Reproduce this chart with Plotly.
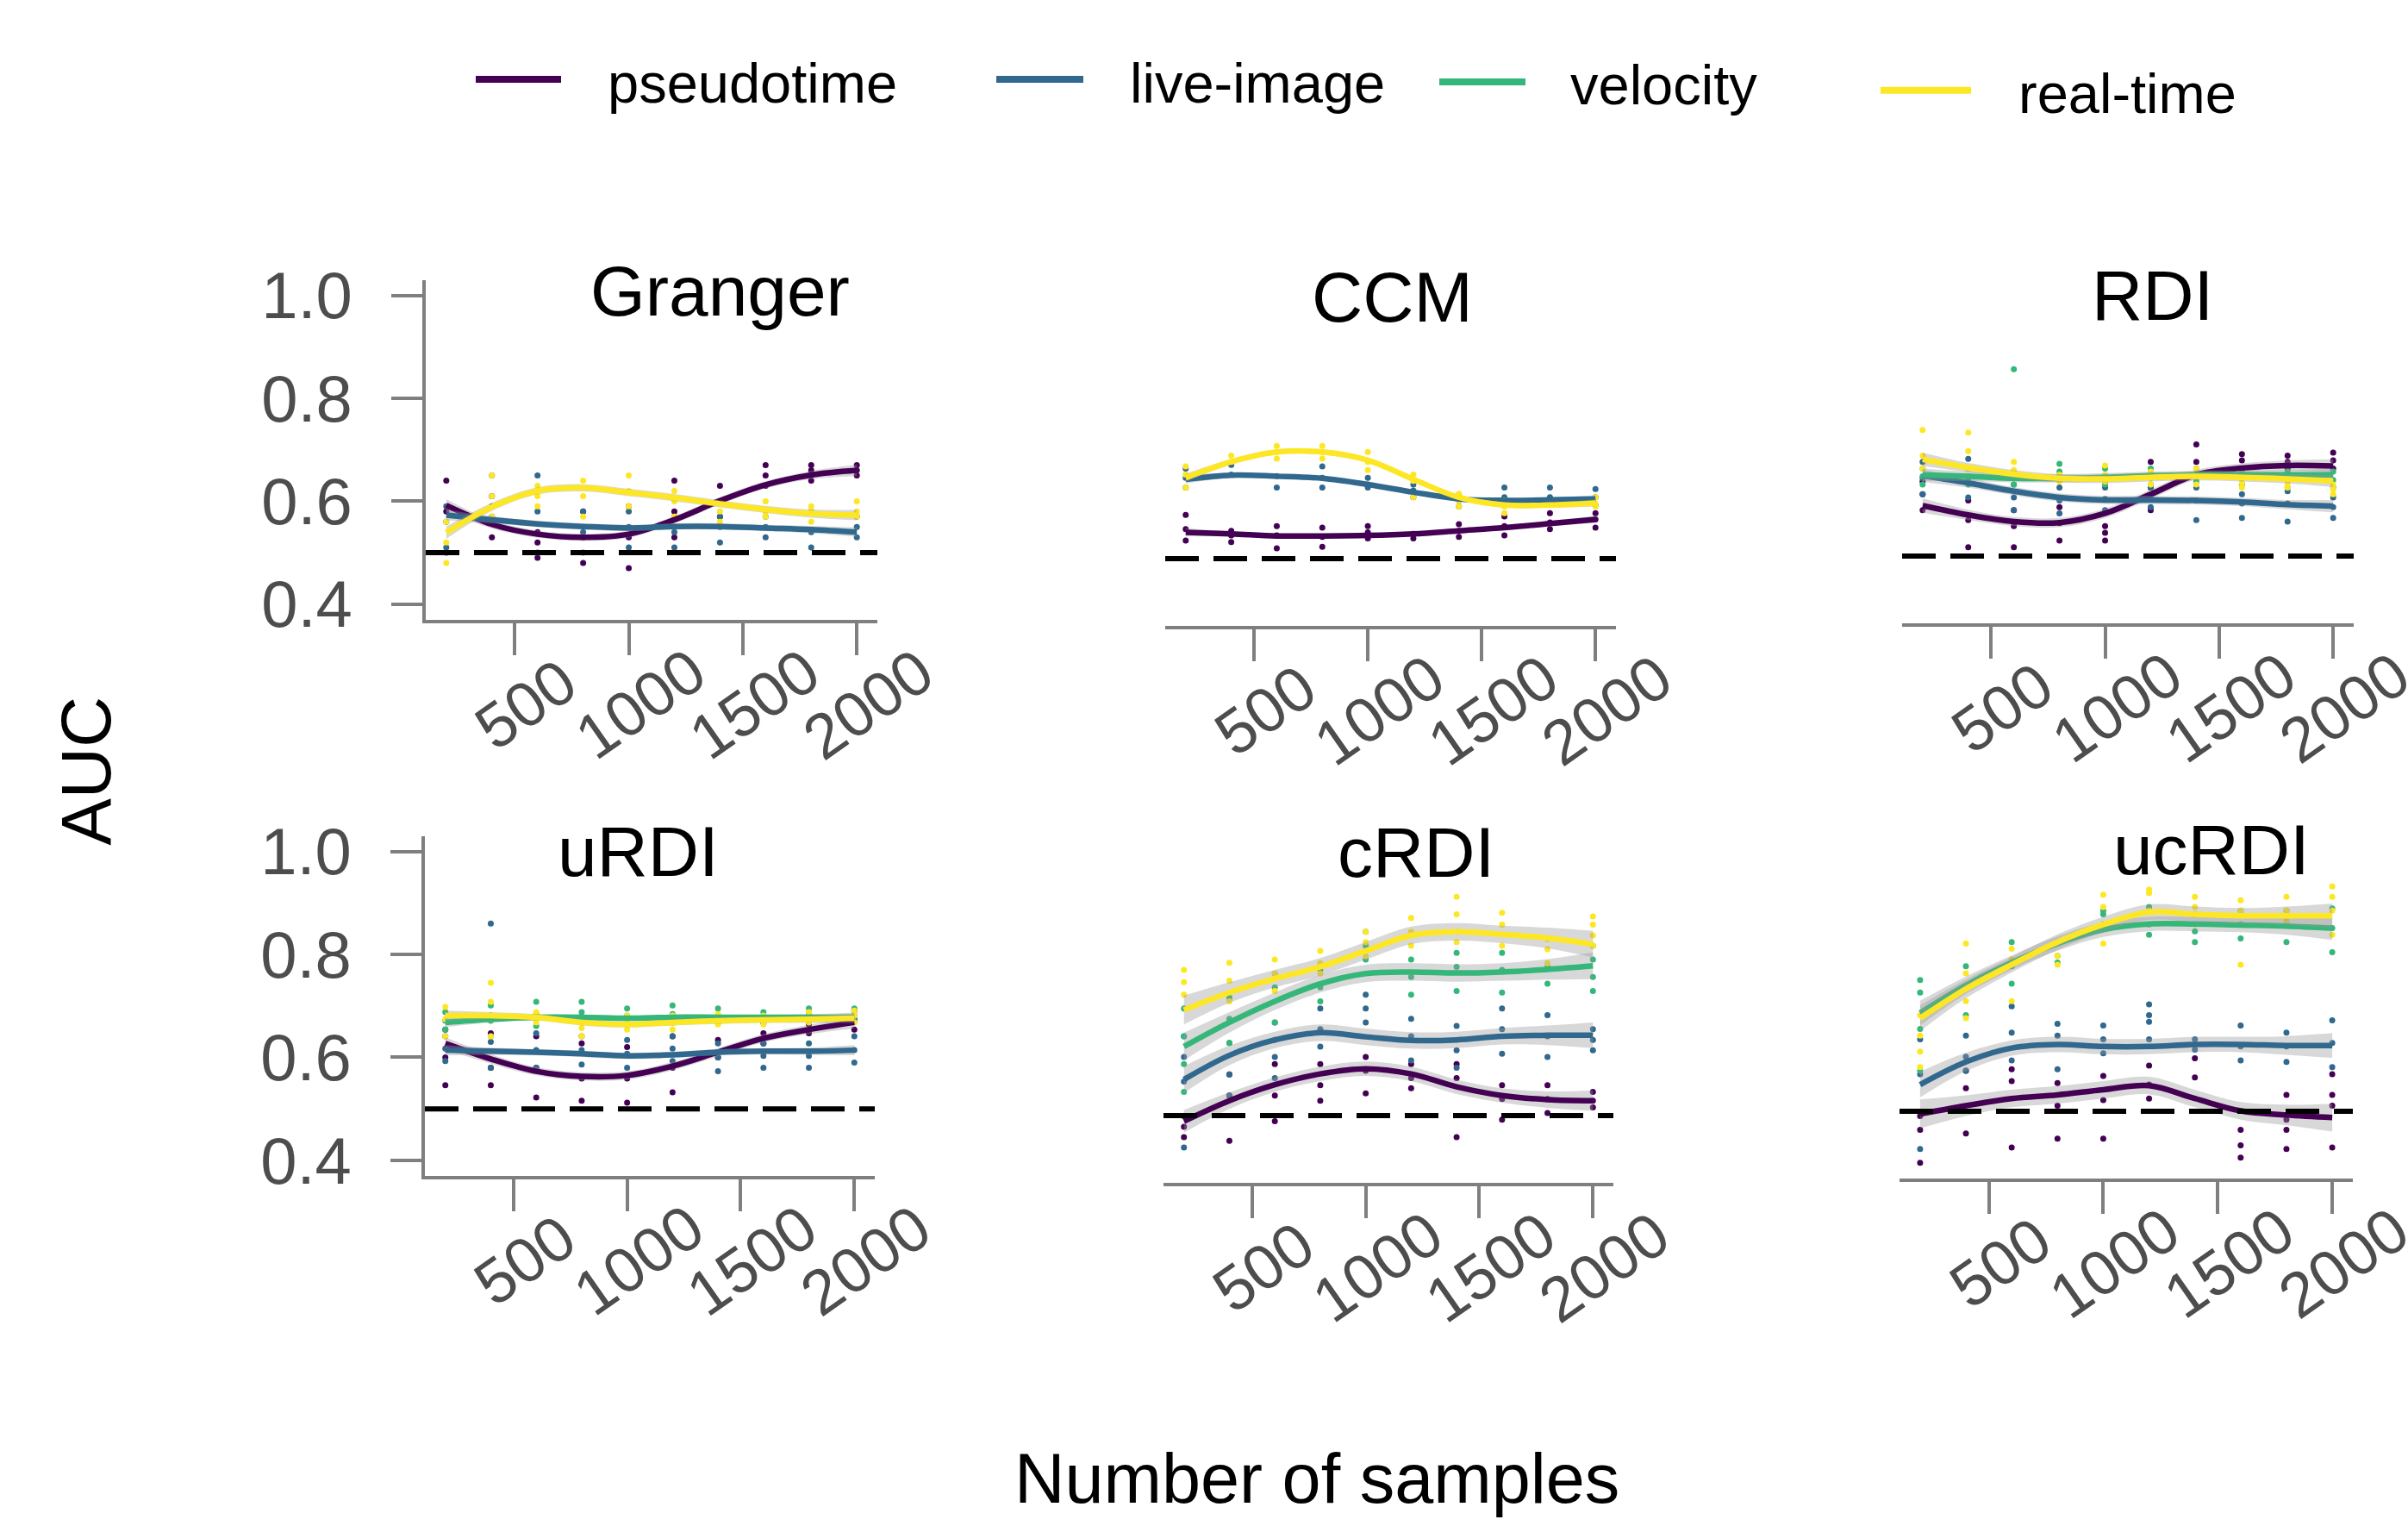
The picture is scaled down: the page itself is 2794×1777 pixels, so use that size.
import plotly.graph_objects as go

W, H = 2794, 1777

# ---------------- data ----------------
SAMPLES = [200, 400, 600, 800, 1000, 1200, 1400, 1600, 1800, 2000]
X_TICKS = [500, 1000, 1500, 2000]
X_TICK_LABELS = ["500", "1000", "1500", "2000"]
Y_TICKS = [0.4, 0.6, 0.8, 1.0]
Y_TICK_LABELS = ["0.4", "0.6", "0.8", "1.0"]
CHANCE_AUC = 0.5
METHODS = ["pseudotime", "live-image", "velocity", "real-time"]
PANELS = ["Granger", "CCM", "RDI", "uRDI", "cRDI", "ucRDI"]

# Granger
granger_pseudo_fit = [0.592, 0.555, 0.536, 0.530, 0.536, 0.564, 0.601, 0.632, 0.651, 0.660]
granger_pseudo_se = [0.012, 0.008, 0.007, 0.007, 0.007, 0.007, 0.007, 0.007, 0.008, 0.011]
granger_pseudo_pts = [[0.64, 0.58, 0.50], [0.61, 0.57, 0.53], [0.54, 0.52, 0.49], [0.58, 0.53, 0.48],
                      [0.59, 0.53, 0.47], [0.64, 0.58, 0.53], [0.63, 0.60, 0.57], [0.67, 0.65, 0.63],
                      [0.67, 0.66, 0.64], [0.67, 0.66, 0.65]]
granger_live_fit = [0.573, 0.564, 0.556, 0.551, 0.548, 0.551, 0.551, 0.548, 0.545, 0.540]
granger_live_se = [0.010, 0.007, 0.006, 0.006, 0.006, 0.006, 0.006, 0.006, 0.007, 0.009]
granger_live_pts = [[0.59, 0.56, 0.51], [0.65, 0.59, 0.56], [0.65, 0.58, 0.50], [0.58, 0.54, 0.50],
                    [0.58, 0.55, 0.51], [0.57, 0.54, 0.51], [0.57, 0.55, 0.52], [0.57, 0.55, 0.53],
                    [0.58, 0.54, 0.51], [0.57, 0.55, 0.53]]
granger_real_fit = [0.539, 0.589, 0.620, 0.626, 0.617, 0.607, 0.595, 0.584, 0.576, 0.573]
granger_real_se = [0.012, 0.008, 0.007, 0.007, 0.007, 0.007, 0.007, 0.007, 0.008, 0.010]
granger_real_pts = [[0.56, 0.52, 0.48], [0.65, 0.61, 0.57], [0.63, 0.61, 0.59], [0.64, 0.61, 0.57],
                    [0.65, 0.62, 0.59], [0.62, 0.60, 0.57], [0.60, 0.58, 0.56], [0.60, 0.58, 0.57],
                    [0.59, 0.58, 0.56], [0.60, 0.58, 0.57]]

# CCM
ccm_pseudo_fit = [0.551, 0.548, 0.544, 0.544, 0.545, 0.548, 0.554, 0.560, 0.568, 0.576]
ccm_pseudo_se = [0.008, 0.005, 0.004, 0.004, 0.004, 0.004, 0.004, 0.004, 0.005, 0.007]
ccm_pseudo_pts = [[0.585, 0.557, 0.535], [0.554, 0.545, 0.532], [0.563, 0.545, 0.520], [0.560, 0.542, 0.523],
                  [0.563, 0.551, 0.539], [0.548, 0.539], [0.567, 0.554, 0.542], [0.582, 0.563, 0.545],
                  [0.588, 0.570, 0.557], [0.588, 0.576, 0.560]]
ccm_live_fit = [0.654, 0.662, 0.660, 0.656, 0.644, 0.629, 0.616, 0.613, 0.614, 0.616]
ccm_live_se = [0.008, 0.005, 0.004, 0.004, 0.004, 0.004, 0.004, 0.004, 0.005, 0.007]
ccm_live_pts = [[0.675, 0.657, 0.638], [0.682, 0.663], [0.660, 0.638], [0.679, 0.657, 0.638],
                [0.657, 0.644, 0.638], [0.644, 0.632, 0.619], [0.623, 0.613, 0.601], [0.638, 0.619, 0.607],
                [0.638, 0.619, 0.607], [0.635, 0.619, 0.604]]
ccm_real_fit = [0.657, 0.688, 0.707, 0.707, 0.691, 0.654, 0.619, 0.604, 0.604, 0.608]
ccm_real_se = [0.008, 0.005, 0.005, 0.005, 0.005, 0.005, 0.005, 0.005, 0.005, 0.007]
ccm_real_pts = [[0.679, 0.663, 0.638], [0.700, 0.688], [0.719, 0.707, 0.694], [0.719, 0.707, 0.694],
                [0.707, 0.688, 0.672], [0.663, 0.651, 0.619], [0.626, 0.613, 0.601], [0.613, 0.601, 0.588],
                [0.613, 0.604], [0.619, 0.607, 0.601]]

# RDI
rdi_pseudo_fit = [0.598, 0.580, 0.567, 0.565, 0.583, 0.620, 0.658, 0.671, 0.676, 0.675]
rdi_pseudo_se = [0.014, 0.010, 0.009, 0.009, 0.009, 0.009, 0.009, 0.009, 0.010, 0.013]
rdi_pseudo_pts = [[0.645, 0.620, 0.589], [0.608, 0.570, 0.517], [0.589, 0.558, 0.517], [0.595, 0.564, 0.530],
                  [0.558, 0.545, 0.530], [0.683, 0.633, 0.589], [0.717, 0.683, 0.658], [0.698, 0.686, 0.670],
                  [0.695, 0.683, 0.670], [0.701, 0.686, 0.670]]
rdi_live_fit = [0.656, 0.642, 0.626, 0.614, 0.609, 0.609, 0.608, 0.605, 0.600, 0.597]
rdi_live_se = [0.012, 0.009, 0.008, 0.008, 0.008, 0.008, 0.008, 0.008, 0.009, 0.012]
rdi_live_pts = [[0.683, 0.651, 0.620], [0.689, 0.651, 0.614], [0.639, 0.614, 0.589], [0.633, 0.608, 0.583],
                [0.633, 0.611, 0.589], [0.633, 0.614, 0.595], [0.633, 0.608, 0.570], [0.620, 0.602, 0.574],
                [0.626, 0.602, 0.567], [0.614, 0.595, 0.574]]
rdi_vel_fit = [0.658, 0.655, 0.651, 0.651, 0.653, 0.656, 0.658, 0.658, 0.658, 0.658]
rdi_vel_se = [0.012, 0.009, 0.008, 0.008, 0.008, 0.008, 0.008, 0.008, 0.009, 0.012]
rdi_vel_pts = [[0.670, 0.655, 0.639], [0.670, 0.655, 0.639], [0.863, 0.664, 0.639], [0.679, 0.664, 0.651],
               [0.670, 0.655, 0.639], [0.670, 0.655, 0.639], [0.670, 0.658, 0.645], [0.664, 0.651, 0.639],
               [0.664, 0.648, 0.633], [0.664, 0.648, 0.633]]
rdi_real_fit = [0.688, 0.672, 0.659, 0.651, 0.650, 0.653, 0.655, 0.653, 0.650, 0.646]
rdi_real_se = [0.013, 0.009, 0.008, 0.008, 0.008, 0.008, 0.008, 0.008, 0.009, 0.012]
rdi_real_pts = [[0.745, 0.695, 0.670], [0.740, 0.704, 0.670], [0.683, 0.667, 0.658], [0.658, 0.651, 0.645],
                [0.676, 0.658, 0.645], [0.664, 0.651, 0.639], [0.670, 0.655, 0.639], [0.651, 0.642, 0.633],
                [0.651, 0.642, 0.633], [0.639, 0.630, 0.620]]

# uRDI
urdi_pseudo_fit = [0.627, 0.597, 0.573, 0.563, 0.565, 0.583, 0.610, 0.637, 0.654, 0.668]
urdi_pseudo_se = [0.012, 0.009, 0.008, 0.008, 0.008, 0.008, 0.008, 0.008, 0.009, 0.012]
urdi_pseudo_pts = [[0.654, 0.600, 0.546], [0.647, 0.580, 0.546], [0.641, 0.580, 0.522], [0.627, 0.559, 0.516],
                   [0.620, 0.559, 0.512], [0.641, 0.580, 0.532], [0.668, 0.634, 0.600], [0.668, 0.647, 0.627],
                   [0.681, 0.664, 0.647], [0.691, 0.674, 0.654]]
urdi_live_fit = [0.614, 0.612, 0.610, 0.607, 0.603, 0.605, 0.610, 0.612, 0.612, 0.614]
urdi_live_se = [0.010, 0.007, 0.006, 0.006, 0.006, 0.006, 0.006, 0.006, 0.007, 0.010]
urdi_live_pts = [[0.641, 0.617, 0.593], [0.860, 0.681, 0.630, 0.580], [0.647, 0.614, 0.580], [0.641, 0.614, 0.586],
                 [0.634, 0.607, 0.580], [0.641, 0.617, 0.593], [0.627, 0.600, 0.573], [0.627, 0.603, 0.580],
                 [0.627, 0.603, 0.580], [0.641, 0.614, 0.590]]
urdi_vel_fit = [0.668, 0.674, 0.678, 0.678, 0.676, 0.678, 0.678, 0.678, 0.678, 0.678]
urdi_vel_se = [0.009, 0.006, 0.005, 0.005, 0.005, 0.005, 0.005, 0.005, 0.006, 0.009]
urdi_vel_pts = [[0.688, 0.671, 0.654], [0.701, 0.671, 0.641], [0.708, 0.684, 0.661], [0.708, 0.688, 0.668],
                [0.695, 0.681, 0.664], [0.701, 0.684, 0.668], [0.695, 0.681, 0.668], [0.688, 0.678, 0.668],
                [0.695, 0.684, 0.674], [0.695, 0.682, 0.671]]
urdi_real_fit = [0.681, 0.681, 0.678, 0.668, 0.664, 0.668, 0.671, 0.673, 0.674, 0.676]
urdi_real_se = [0.010, 0.007, 0.006, 0.006, 0.006, 0.006, 0.006, 0.006, 0.007, 0.009]
urdi_real_pts = [[0.698, 0.674, 0.641], [0.745, 0.708, 0.674, 0.641], [0.688, 0.678, 0.668], [0.674, 0.657, 0.641],
                 [0.681, 0.668, 0.654], [0.681, 0.668, 0.654], [0.684, 0.674, 0.664], [0.681, 0.673, 0.664],
                 [0.688, 0.678, 0.668], [0.691, 0.681, 0.668]]

# cRDI
crdi_pseudo_fit = [0.489, 0.529, 0.560, 0.581, 0.591, 0.581, 0.556, 0.539, 0.531, 0.529]
crdi_pseudo_se = [0.022, 0.016, 0.014, 0.014, 0.014, 0.014, 0.014, 0.014, 0.016, 0.020]
crdi_pseudo_pts = [[0.499, 0.478, 0.458], [0.580, 0.539, 0.451], [0.600, 0.539, 0.489], [0.600, 0.559, 0.529],
                   [0.614, 0.587, 0.543], [0.600, 0.573, 0.553], [0.600, 0.573, 0.458], [0.559, 0.532, 0.492],
                   [0.559, 0.532, 0.505], [0.546, 0.529, 0.516]]
crdi_live_fit = [0.570, 0.617, 0.647, 0.661, 0.653, 0.646, 0.647, 0.654, 0.656, 0.656]
crdi_live_se = [0.026, 0.019, 0.016, 0.016, 0.016, 0.016, 0.016, 0.016, 0.019, 0.025]
crdi_live_pts = [[0.654, 0.614, 0.566, 0.438], [0.641, 0.580, 0.539], [0.681, 0.647, 0.614, 0.573],
                 [0.708, 0.668, 0.634], [0.735, 0.708, 0.681], [0.688, 0.654, 0.607], [0.674, 0.627, 0.593],
                 [0.708, 0.668, 0.620], [0.695, 0.654, 0.614], [0.668, 0.647, 0.627]]
crdi_vel_fit = [0.634, 0.681, 0.722, 0.756, 0.776, 0.779, 0.777, 0.779, 0.784, 0.791]
crdi_vel_se = [0.027, 0.020, 0.017, 0.017, 0.017, 0.017, 0.017, 0.017, 0.020, 0.026]
crdi_vel_pts = [[0.708, 0.654, 0.600, 0.546], [0.729, 0.688, 0.641], [0.776, 0.749, 0.681], [0.783, 0.749, 0.722],
                [0.857, 0.830, 0.803], [0.803, 0.769, 0.735], [0.816, 0.789, 0.742], [0.816, 0.783, 0.739],
                [0.789, 0.756], [0.830, 0.803, 0.769, 0.742]]
crdi_real_fit = [0.705, 0.739, 0.766, 0.789, 0.820, 0.850, 0.857, 0.852, 0.845, 0.833]
crdi_real_se = [0.028, 0.020, 0.017, 0.017, 0.017, 0.017, 0.017, 0.017, 0.020, 0.026]
crdi_real_pts = [[0.783, 0.759, 0.735], [0.797, 0.762, 0.722], [0.803, 0.776, 0.742], [0.820, 0.796, 0.776],
                 [0.857, 0.837, 0.810], [0.884, 0.857, 0.830], [0.925, 0.891, 0.857, 0.837], [0.894, 0.871, 0.830],
                 [0.843, 0.823, 0.796], [0.887, 0.871, 0.850, 0.830]]

# ucRDI
ucrdi_pseudo_fit = [0.495, 0.511, 0.525, 0.532, 0.542, 0.550, 0.525, 0.501, 0.493, 0.488]
ucrdi_pseudo_se = [0.028, 0.020, 0.017, 0.017, 0.017, 0.017, 0.017, 0.017, 0.020, 0.027]
ucrdi_pseudo_pts = [[0.491, 0.464, 0.400], [0.579, 0.545, 0.457], [0.582, 0.559, 0.430], [0.555, 0.511, 0.447],
                    [0.569, 0.522, 0.447], [0.589, 0.552, 0.525], [0.603, 0.566], [0.464, 0.434, 0.410],
                    [0.532, 0.484, 0.464, 0.427], [0.572, 0.532, 0.511, 0.430]]
ucrdi_live_fit = [0.552, 0.596, 0.623, 0.630, 0.626, 0.626, 0.630, 0.630, 0.628, 0.628]
ucrdi_live_se = [0.025, 0.018, 0.015, 0.015, 0.015, 0.015, 0.015, 0.015, 0.018, 0.024]
ucrdi_live_pts = [[0.640, 0.572, 0.427], [0.647, 0.606, 0.579], [0.704, 0.653, 0.599], [0.670, 0.647, 0.582],
                  [0.667, 0.640, 0.613], [0.708, 0.687, 0.674, 0.640], [0.640, 0.620], [0.667, 0.626, 0.599],
                  [0.653, 0.626, 0.596], [0.677, 0.633, 0.586]]
ucrdi_vel_fit = [0.691, 0.745, 0.789, 0.826, 0.853, 0.864, 0.864, 0.862, 0.860, 0.856]
ucrdi_vel_se = [0.024, 0.017, 0.014, 0.014, 0.014, 0.014, 0.014, 0.014, 0.017, 0.023]
ucrdi_vel_pts = [[0.755, 0.731, 0.660, 0.579], [0.782, 0.741, 0.687], [0.829, 0.782, 0.748], [0.829, 0.802, 0.789],
                 [0.890, 0.883, 0.863], [0.897, 0.863, 0.843], [0.883, 0.850, 0.829], [0.890, 0.863, 0.836],
                 [0.890, 0.863, 0.829], [0.894, 0.856, 0.809]]
ucrdi_real_fit = [0.681, 0.738, 0.785, 0.829, 0.863, 0.887, 0.883, 0.880, 0.880, 0.880]
ucrdi_real_se = [0.025, 0.018, 0.015, 0.015, 0.015, 0.015, 0.015, 0.015, 0.018, 0.024]
ucrdi_real_pts = [[0.687, 0.647, 0.616, 0.586], [0.826, 0.768, 0.714, 0.681], [0.816, 0.795, 0.714],
                  [0.829, 0.802, 0.785], [0.921, 0.897, 0.826], [0.931, 0.924, 0.890], [0.917, 0.897, 0.863],
                  [0.910, 0.890, 0.785], [0.917, 0.890, 0.870], [0.937, 0.917, 0.890, 0.843]]

# (fit, se, points) per method, per panel; None = method not shown in that panel
PANEL_DATA = [
    [(granger_pseudo_fit, granger_pseudo_se, granger_pseudo_pts),
     (granger_live_fit, granger_live_se, granger_live_pts),
     None,
     (granger_real_fit, granger_real_se, granger_real_pts)],
    [(ccm_pseudo_fit, ccm_pseudo_se, ccm_pseudo_pts),
     (ccm_live_fit, ccm_live_se, ccm_live_pts),
     None,
     (ccm_real_fit, ccm_real_se, ccm_real_pts)],
    [(rdi_pseudo_fit, rdi_pseudo_se, rdi_pseudo_pts),
     (rdi_live_fit, rdi_live_se, rdi_live_pts),
     (rdi_vel_fit, rdi_vel_se, rdi_vel_pts),
     (rdi_real_fit, rdi_real_se, rdi_real_pts)],
    [(urdi_pseudo_fit, urdi_pseudo_se, urdi_pseudo_pts),
     (urdi_live_fit, urdi_live_se, urdi_live_pts),
     (urdi_vel_fit, urdi_vel_se, urdi_vel_pts),
     (urdi_real_fit, urdi_real_se, urdi_real_pts)],
    [(crdi_pseudo_fit, crdi_pseudo_se, crdi_pseudo_pts),
     (crdi_live_fit, crdi_live_se, crdi_live_pts),
     (crdi_vel_fit, crdi_vel_se, crdi_vel_pts),
     (crdi_real_fit, crdi_real_se, crdi_real_pts)],
    [(ucrdi_pseudo_fit, ucrdi_pseudo_se, ucrdi_pseudo_pts),
     (ucrdi_live_fit, ucrdi_live_se, ucrdi_live_pts),
     (ucrdi_vel_fit, ucrdi_vel_se, ucrdi_vel_pts),
     (ucrdi_real_fit, ucrdi_real_se, ucrdi_real_pts)],
]

# ---------------- styling / layout ----------------
COLORS = ["#440154", "#31688E", "#35B779", "#FDE725"]
FONT = "Liberation Sans, Arial, Helvetica, sans-serif"
TICK_COLOR = "#4D4D4D"
AXIS_COLOR = "#7F7F7F"
X_RANGE = [110, 2090]
Y_RANGE = [0.37, 1.03]


def fx(p):
    return p / W


def fy(p):
    return 1 - p / H


# panel boxes in pixels: left, right, top, bottom
PANEL_BOX = [
    (494, 1018, 309, 714),
    (1352, 1875, 316, 721),
    (2207, 2731, 313, 718),
    (493, 1015, 972, 1377),
    (1350, 1872, 980, 1385),
    (2204, 2730, 975, 1380),
]
TITLE_POS = [(835, 322), (1615, 329), (2497, 327), (740, 990), (1643, 991), (2566, 988)]
SHOW_Y = [True, False, False, True, False, False]

fig = go.Figure()
layout = dict(
    width=W, height=H, autosize=False,
    margin=dict(l=0, r=0, t=0, b=0, pad=0),
    paper_bgcolor="white", plot_bgcolor="white",
    showlegend=False,
    font=dict(family=FONT),
)
annotations = []
shapes = []

for i, (name, box, data) in enumerate(zip(PANELS, PANEL_BOX, PANEL_DATA)):
    n = i + 1
    xa = "x" if n == 1 else f"x{n}"
    ya = "y" if n == 1 else f"y{n}"
    l, r, t, b = box
    layout["xaxis" if n == 1 else f"xaxis{n}"] = dict(
        domain=[fx(l), fx(r)], range=X_RANGE, anchor=ya,
        showline=True, linecolor=AXIS_COLOR, linewidth=4,
        ticks="outside", ticklen=37, tickwidth=4, tickcolor=AXIS_COLOR,
        tickvals=X_TICKS, showticklabels=False,
        showgrid=False, zeroline=False, fixedrange=True,
    )
    ydict = dict(
        domain=[fy(b), fy(t)], range=Y_RANGE, anchor=xa,
        showgrid=False, zeroline=False, fixedrange=True,
    )
    if SHOW_Y[i]:
        ydict.update(showline=True, linecolor=AXIS_COLOR, linewidth=4,
                     ticks="outside", ticklen=36, tickwidth=4, tickcolor=AXIS_COLOR,
                     tickvals=Y_TICKS, ticktext=Y_TICK_LABELS, showticklabels=True,
                     tickfont=dict(size=76, color=TICK_COLOR, family=FONT),
                     ticklabelstandoff=30)
    else:
        ydict.update(showline=False, ticks="", showticklabels=False)
    layout["yaxis" if n == 1 else f"yaxis{n}"] = ydict

    # points
    for m, series in enumerate(data):
        if series is None:
            continue
        fit, se, pts = series
        px, py = [], []
        for xv, reps in zip(SAMPLES, pts):
            for v in reps:
                px.append(xv)
                py.append(v)
        fig.add_trace(go.Scatter(x=px, y=py, mode="markers", xaxis=xa, yaxis=ya,
                                 marker=dict(color=COLORS[m], size=7, line=dict(width=0)),
                                 name=METHODS[m], hoverinfo="skip"))
    # bands + fitted lines
    for m, series in enumerate(data):
        if series is None:
            continue
        fit, se, pts = series
        upper = [f + s for f, s in zip(fit, se)]
        lower = [f - s for f, s in zip(fit, se)]
        fig.add_trace(go.Scatter(x=SAMPLES, y=upper, mode="lines", xaxis=xa, yaxis=ya,
                                 line=dict(width=0, shape="spline", smoothing=1.0),
                                 hoverinfo="skip"))
        fig.add_trace(go.Scatter(x=SAMPLES, y=lower, mode="lines", xaxis=xa, yaxis=ya,
                                 line=dict(width=0, shape="spline", smoothing=1.0),
                                 fill="tonexty", fillcolor="rgba(153,153,153,0.38)",
                                 hoverinfo="skip"))
        fig.add_trace(go.Scatter(x=SAMPLES, y=fit, mode="lines", xaxis=xa, yaxis=ya,
                                 line=dict(color=COLORS[m], width=6.5, shape="spline", smoothing=1.0),
                                 name=METHODS[m]))

    # chance line
    shapes.append(dict(type="line", xref=f"{xa} domain", x0=0, x1=1, yref=ya,
                       y0=CHANCE_AUC, y1=CHANCE_AUC, layer="above",
                       line=dict(color="black", width=6, dash="39px,17px")))

    # rotated x tick labels
    for tv, tl in zip(X_TICKS, X_TICK_LABELS):
        annotations.append(dict(xref=xa, yref=f"{ya} domain", x=tv, y=0,
                                xshift=13, yshift=-98, text=tl, textangle=-35,
                                showarrow=False, xanchor="center", yanchor="middle",
                                font=dict(size=73, color=TICK_COLOR, family=FONT)))
    # panel title
    tx, ty = TITLE_POS[i]
    annotations.append(dict(xref="paper", yref="paper", x=fx(tx), y=fy(ty),
                            text=name, showarrow=False, xanchor="center", yanchor="middle",
                            font=dict(size=82, color="black", family=FONT)))

# axis titles
annotations.append(dict(xref="paper", yref="paper", x=fx(100), y=fy(895), text="AUC",
                        textangle=-90, showarrow=False, xanchor="center", yanchor="middle",
                        font=dict(size=82, color="black", family=FONT)))
annotations.append(dict(xref="paper", yref="paper", x=fx(1528), y=fy(1738),
                        text="Number of samples", showarrow=False, xanchor="center", yanchor="middle",
                        font=dict(size=81, color="black", family=FONT)))

# legend (manual, top)
LEGEND_KEYS = [(552, 651, 70, 703), (1156, 1257, 70, 1309), (1670, 1770, 73, 1820), (2182, 2287, 83, 2340)]
for m, (x0, x1, yk, xt) in enumerate(LEGEND_KEYS):
    shapes.append(dict(type="line", xref="paper", yref="paper", x0=fx(x0), x1=fx(x1),
                       y0=fy(yk), y1=fy(yk), line=dict(color=COLORS[m], width=8)))
    annotations.append(dict(xref="paper", yref="paper", x=fx(xt), y=fy(yk + 4),
                            text=METHODS[m], showarrow=False, xanchor="left", yanchor="middle",
                            font=dict(size=65, color="black", family=FONT)))

layout["annotations"] = annotations
layout["shapes"] = shapes
fig.update_layout(**layout)
# remove the default page margin so the figure sits at the window's top-left corner
fig.write_html("out.html", config={"displayModeBar": False},
               post_script="document.body.style.margin='0';")
